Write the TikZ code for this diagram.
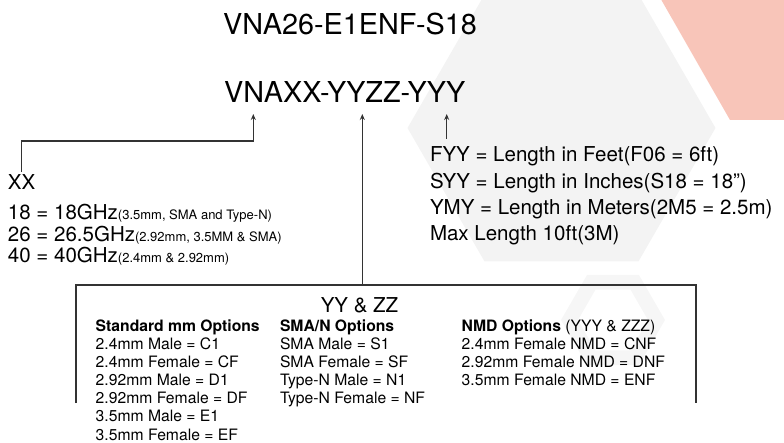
\documentclass[tikz,border=0pt]{standalone}
\usepackage{fontspec}
\setmainfont{TeX Gyre Heros}
\usetikzlibrary{arrows.meta}

\definecolor{linegray}{HTML}{333333}
\definecolor{hexgray}{HTML}{F3F3F3}
\definecolor{ringgray}{HTML}{F6F6F6}
\definecolor{salmon}{HTML}{F8C5B9}

\newcommand{\titlefont}{\fontsize{28.8}{30}\selectfont}
\newcommand{\codefont}{\fontsize{20.5}{24}\selectfont}
\newcommand{\notefont}{\fontsize{13}{15}\selectfont}
\newcommand{\optfont}{\fontsize{15.7}{18}\selectfont}

\tikzset{
  txt/.style={anchor=base west, inner sep=0pt, outer sep=0pt},
  conn/.style={draw=linegray, line width=1.1pt},
}

\begin{document}
\begin{tikzpicture}[x=1pt, y=-1pt, >={Stealth[length=6pt, width=5pt]}]
  \useasboundingbox (0,0) rectangle (784,443);
  \clip (0,0) rectangle (784,443);

  % Background
  \fill[hexgray] (715.5,128) -- (638.5,261.4) -- (484.5,261.4) -- (407.5,128)
    -- (484.5,-5.4) -- (638.5,-5.4) -- cycle;
  \fill[salmon] (660.8,-1) -- (730,120) -- (785,120) -- (785,-1) -- cycle;
  \fill[ringgray, even odd rule]
    (665,320) -- (639,275) -- (587,275) -- (561,320) -- (587,365) -- (639,365) -- cycle
    (648,320) -- (630.5,289.7) -- (595.5,289.7) -- (578,320) -- (595.5,350.3) -- (630.5,350.3) -- cycle;

  % Part numbers
  \node[txt, anchor=base, font=\titlefont] (example) at (350,35) {VNA26-E1ENF-S18};
  \node[txt, anchor=base, font=\titlefont] (code) at (344.7,103) {VNAXX-YYZZ-YYY};

  % XX
  \node[txt, font=\codefont] (xx) at (8,190) {XX};
  \foreach \rate/\note [count=\i] in {18 = 18GHz/{(3.5mm, SMA and Type-N)},
      26 = 26.5GHz/{(2.92mm, 3.5MM \& SMA)}, 40 = 40GHz/{(2.4mm \& 2.92mm)}}
    \node[txt, font=\codefont] (rate\i) at (8, 198.5+21.5*\i) {\rate{\notefont\note}};

  % YYY
  \foreach \txt [count=\i] in {FYY = Length in Feet(F06 = 6ft), SYY = Length in Inches(S18 = 18”),
      YMY = Length in Meters(2M5 = 2.5m), Max Length 10ft(3M)}
    \node[txt, font=\codefont] (len\i) at (430, 135.4+26.4*\i) {\txt};

  % YY & ZZ
  \node[txt, anchor=base, font=\codefont] (yyzz) at (359.5,312.7) {YY \& ZZ};
  \node[txt, font=\optfont\bfseries] (std0) at (95.7,331.7) {Standard mm Options};
  \foreach \txt [count=\i] in {2.4mm Male = C1, 2.4mm Female = CF, 2.92mm Male = D1,
      2.92mm Female = DF, 3.5mm Male = E1, 3.5mm Female = EF}
    \node[txt, font=\optfont] (std\i) at (95.7, 331.7+18.05*\i) {\txt};
  \node[txt, font=\optfont\bfseries] (sma0) at (280,331.7) {SMA/N Options};
  \foreach \txt [count=\i] in {SMA Male = S1, SMA Female = SF, Type-N Male = N1, Type-N Female = NF}
    \node[txt, font=\optfont] (sma\i) at (280, 331.7+18.05*\i) {\txt};
  \node[txt, font=\optfont] (nmd0) at (461.7,331.7) {\textbf{NMD Options} (YYY \& ZZZ)};
  \foreach \txt [count=\i] in {2.4mm Female NMD = CNF, 2.92mm Female NMD = DNF, 3.5mm Female NMD = ENF}
    \node[txt, font=\optfont] (nmd\i) at (461.7, 331.7+18.05*\i) {\txt};

  % Connectors
  \coordinate (xxtip) at (253.3,114);
  \coordinate (xxbend) at (253.3,141);
  \coordinate (yytip) at (362.3,114);
  \coordinate (yyjoin) at (362.3,285);
  \coordinate (lentip) at (446.7,114);
  \coordinate (lenstart) at (446.7,139);
  \coordinate (boxtl) at (76,285);
  \coordinate (boxbl) at (76,403);
  \coordinate (boxtr) at (696,285);
  \coordinate (boxbr) at (696,403);

  \draw[conn, ->] ([yshift=3pt]xx.north) |- (xxbend) -- (xxtip);
  \draw[conn, ->] (yyjoin) -- (yytip);
  \draw[conn, ->] (lenstart) -- (lentip);
  \draw[conn] (boxbl) -- (boxtl) -- (boxtr) -- (boxbr);
\end{tikzpicture}
\end{document}
